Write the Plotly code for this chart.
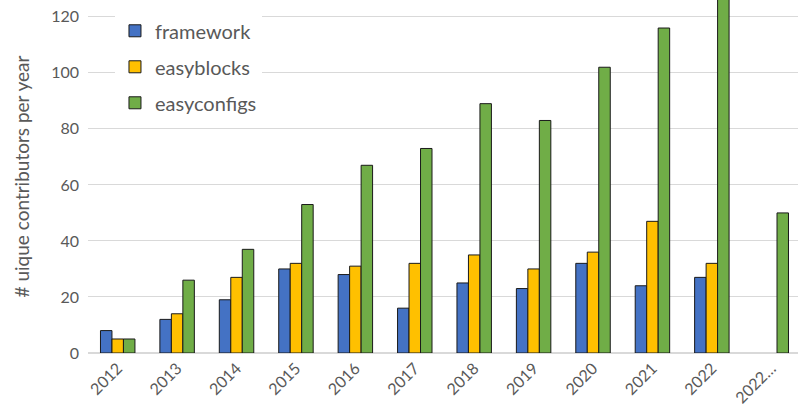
import plotly.graph_objects as go

categories = ["2012", "2013", "2014", "2015", "2016", "2017", "2018", "2019",
              "2020", "2021", "2022", "2022…"]
framework = [8, 12, 19, 30, 28, 16, 25, 23, 32, 24, 27, None]
easyblocks = [5, 14, 27, 32, 31, 32, 35, 30, 36, 47, 32, None]
easyconfigs = [5, 26, 37, 53, 67, 73, 89, 83, 102, 116, 132, 50]

series = [
    ("framework", framework, "#4472C4"),
    ("easyblocks", easyblocks, "#FFC000"),
    ("easyconfigs", easyconfigs, "#70AD47"),
]

FONT = "Lato"
fig = go.Figure()
for name, vals, color in series:
    fig.add_trace(go.Bar(
        x=list(range(len(categories))), y=vals, name=name,
        marker=dict(color=color, line=dict(color="#1a1a1a", width=1)),
        legendgroup=name,
    ))

fig.update_layout(
    width=798, height=407,
    margin=dict(l=88, r=0, t=0, b=54, autoexpand=False),
    paper_bgcolor="white", plot_bgcolor="white",
    barmode="group", bargap=0.42, bargroupgap=0,
    font=dict(family=FONT, color="#595959"),
    showlegend=True,
    legend=dict(
        x=0.038, y=0.968, xanchor="left", yanchor="top",
        bgcolor="white", font=dict(size=20, color="#595959"),
        traceorder="grouped", tracegroupgap=7,
        itemwidth=30,
    ),
    xaxis=dict(
        tickmode="array", tickvals=list(range(len(categories))),
        ticktext=categories, range=[-0.5, 11.45],
        tickangle=-45, tickfont=dict(size=16, color="#595959"),
        showgrid=False, showline=False, zeroline=False, ticks="",
        automargin=False, ticklabelstandoff=2,
    ),
    yaxis=dict(
        range=[0, 126], tickmode="array", tickvals=[0, 20, 40, 60, 80, 100, 120],
        tickfont=dict(size=16, color="#595959"),
        showgrid=True, gridcolor="#d9d9d9", gridwidth=1,
        zeroline=True, zerolinecolor="#d9d9d9", zerolinewidth=1.5,
        title=dict(text="# uique contributors per year",
                   font=dict(size=19, color="#595959"), standoff=16),
        ticks="", ticklabelstandoff=8, automargin=False,
    ),
)

fig.write_html(
    "out.html",
    config={"displayModeBar": False},
    post_script="document.body.style.margin='0';document.body.style.padding='0';",
)
